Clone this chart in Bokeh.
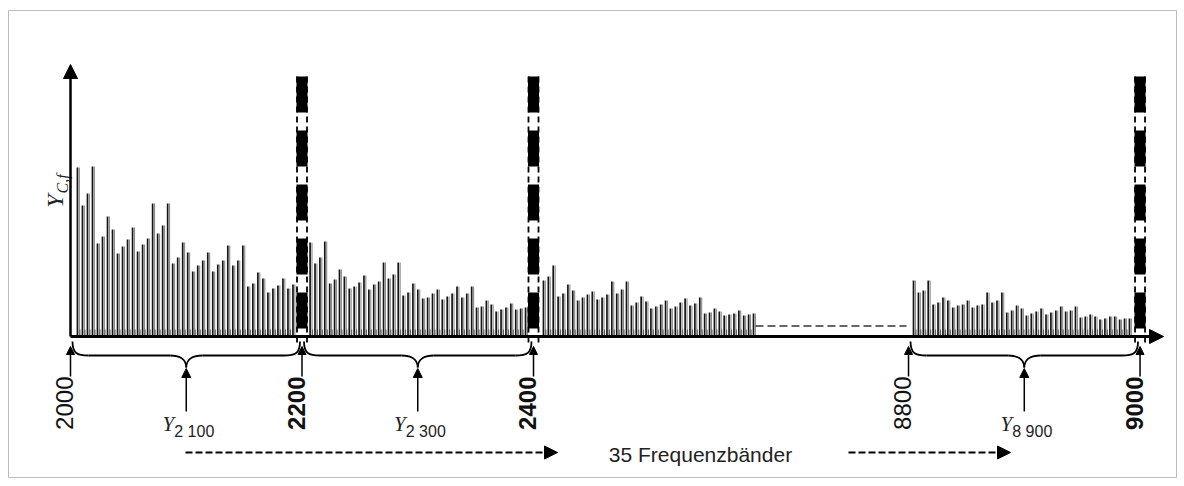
import numpy as np
from bokeh.plotting import figure
from bokeh.models import Range1d, Arrow, NormalHead, ColumnDataSource
from bokeh.core.properties import value
from bokeh.embed import file_html
from bokeh.resources import INLINE

# ---------------- data ----------------
# amplitudes of the spectral lines Y_{C,f} (arbitrary units) per 200 Hz band
band1_amp = [169, 131, 143, 170, 93, 100, 120, 107, 83, 90, 97, 109, 85, 92, 98, 133,
             103, 111, 133, 73, 79, 94, 84, 65, 71, 76, 84, 65, 72, 76, 91, 71, 76, 91,
             50, 53, 64, 58, 44, 48, 51, 58, 48, 52]
band2_amp = [94, 73, 79, 95, 53, 57, 67, 60, 48, 50, 54, 61, 47, 52, 55, 74, 58, 62, 74,
             41, 44, 53, 47, 38, 39, 43, 47, 37, 40, 43, 50, 39, 43, 50, 29, 30, 36, 32,
             25, 27, 29, 33, 27, 28, 29]
band3_amp = [56, 60, 71, 40, 43, 52, 46, 36, 39, 42, 45, 37, 39, 42, 55, 43, 47, 55, 31,
             34, 40, 35, 28, 30, 32, 36, 28, 30, 34, 38, 31, 33, 39, 23, 24, 28, 25, 21,
             22, 23, 26, 21, 22, 23]
band4_amp = [56, 44, 46, 56, 32, 34, 39, 36, 29, 31, 32, 36, 29, 31, 32, 44, 34, 36, 44,
             24, 26, 31, 28, 21, 23, 25, 28, 22, 24, 26, 30, 25, 26, 30, 19, 20, 22, 20,
             17, 18, 20, 20, 17, 18, 18]
band_first_freq = [2006.0, 2207.0, 2408.6, 8804.3]   # Hz, first line of each band
band_line_step = [4.33, 4.23, 4.22, 4.24]            # Hz between lines

tick_freqs = [2000, 2200, 2400, 8800, 9000]
tick_labels = ["2000", "2200", "2400", "8800", "9000"]
marker_freqs = [2200, 2400, 9000]                     # band borders drawn as thick dashed bars
brace_centers = [2100, 2300, 8900]
brace_subscripts = ["2 100", "2 300", "8 900"]
axis_label_main, axis_label_sub = "Y", "C,f"
bands_text = "35 Frequenzbänder"

# ---------------- broken frequency axis ----------------
GAP_SHIFT = 6076.0            # 8800 Hz is drawn right after the gap


def disp(f):
    f = np.asarray(f, dtype=float)
    return np.where(f > 5000, f - GAP_SHIFT, f)


K = 1.1575                    # screen pixels per Hz
X0 = 2000 - 70 / K
W, H = 1184, 486
BASE = 336                    # pixel row of the zero line


def X(px):
    return X0 + px / K


def Y(py):
    return BASE - py


p = figure(width=W, height=H, output_backend="svg", toolbar_location=None,
           x_range=Range1d(X0, X0 + W / K), y_range=Range1d(BASE - H, BASE),
           min_border=0, background_fill_color="white", border_fill_color="white")
p.outline_line_color = None
p.xaxis.visible = False
p.yaxis.visible = False
p.xgrid.visible = False
p.ygrid.visible = False

# outer frame
p.quad(left=[X(8)], right=[X(1176)], bottom=[Y(477)], top=[Y(10)],
       fill_color=None, line_color="#bdbdbd", line_width=1)

# ---------------- spectral lines ----------------
amps = [band1_amp, band2_amp, band3_amp, band4_amp]
xs_all, tops_all, mids = [], [], []
for a, f0, st in zip(amps, band_first_freq, band_line_step):
    f = f0 + st * np.arange(len(a))
    xs_all.extend(disp(f))
    tops_all.extend(a)
    mids.extend(disp(f[:-1] + st / 2))

xs_all = np.array(xs_all)
src = ColumnDataSource(dict(x=xs_all, x2=xs_all + 1.9 / K, top=tops_all))
p.segment(x0="x2", y0=0, x1="x2", y1="top", source=src,
          line_color="#8a8a8a", line_width=1.1)
p.segment(x0="x", y0=0, x1="x", y1="top", source=src,
          line_color="#151515", line_width=1.7)
p.segment(x0=mids, y0=0, x1=mids, y1=7, line_color="#555555", line_width=1)

# continuation dashes in the gap
gap_start = disp(band_first_freq[2] + band_line_step[2] * (len(band3_amp) - 1))
p.segment(x0=[float(gap_start) + 2 / K], y0=[Y(325.5)], x1=[float(disp(8800)) - 2 / K],
          y1=[Y(325.5)], line_color="#333333", line_width=1.5, line_dash="8 4")

# axes
p.segment(x0=[2000], y0=[0], x1=[X(1150)], y1=[0], line_color="black", line_width=3)
p.add_layout(Arrow(end=NormalHead(size=14, fill_color="black", line_color="black"),
                   x_start=X(1140), y_start=0, x_end=X(1163), y_end=0,
                   line_color="black", line_width=3))
p.add_layout(Arrow(end=NormalHead(size=14, fill_color="black", line_color="black"),
                   x_start=2000, y_start=0, x_end=2000, y_end=Y(64),
                   line_color="black", line_width=2.5))

# thick dashed band borders
for fm in marker_freqs:
    xd = float(disp(fm))
    for dx in (-5, 5):
        p.segment(x0=[xd + dx / K], y0=[Y(76)], x1=[xd + dx / K], y1=[Y(342)],
                  line_color="black", line_width=1.8, line_dash="6 4")
    p.segment(x0=[xd], y0=[Y(76)], x1=[xd], y1=[Y(342)],
              line_color="black", line_width=11, line_dash="36 18")

# y label (rotated)
p.text(x=[X(54)], y=[Y(194)], text=[axis_label_main], angle=np.pi / 2,
       text_align="right", text_baseline="alphabetic",
       text_font=value("Liberation Serif"), text_font_style="italic",
       text_font_size="24px", text_color="#222222")
p.text(x=[X(62)], y=[Y(193)], text=[axis_label_sub], angle=np.pi / 2,
       text_align="left", text_baseline="alphabetic",
       text_font=value("Liberation Serif"), text_font_style="italic",
       text_font_size="16px", text_color="#222222")

# tick labels with arrows
for f, lab in zip(tick_freqs, tick_labels):
    xd = float(disp(f))
    bold = f in marker_freqs
    p.text(x=[xd - 6 / K], y=[Y(376)], text=[lab], angle=np.pi / 2,
           text_align="right", text_baseline="middle",
           text_font=value("Liberation Sans"),
           text_font_style="bold" if bold else "normal",
           text_font_size="24px", text_color="#111111")
    p.add_layout(Arrow(end=NormalHead(size=8, fill_color="black", line_color="black"),
                       x_start=xd, y_start=Y(376), x_end=xd, y_end=Y(346),
                       line_color="black", line_width=1.5))

# braces with Y_xxxx labels
q = 16 / K
yb_end, yb_mid, yb_tip = Y(341), Y(355), Y(367)
for c, sub in zip(brace_centers, brace_subscripts):
    cd = float(disp(c))
    L, R = cd - 100 + 2 / K, cd + 100 - 2 / K
    p.bezier(x0=[L, cd, cd, R], y0=[yb_end, yb_tip, yb_tip, yb_end],
             x1=[L + q, cd - q, cd + q, R - q], y1=[yb_mid] * 4,
             cx0=[L, cd, cd, R], cy0=[yb_mid + 2, yb_tip + 9, yb_tip + 9, yb_mid + 2],
             cx1=[L + q * 0.3, cd - q * 0.5, cd + q * 0.5, R - q * 0.3],
             cy1=[yb_mid, yb_mid, yb_mid, yb_mid],
             line_color="black", line_width=1.8)
    p.segment(x0=[L + q, cd + q], y0=[yb_mid, yb_mid], x1=[cd - q, R - q],
              y1=[yb_mid, yb_mid], line_color="black", line_width=1.8)
    p.add_layout(Arrow(end=NormalHead(size=9, fill_color="black", line_color="black"),
                       x_start=cd, y_start=Y(411), x_end=cd, y_end=Y(368),
                       line_color="black", line_width=1.5))
    p.text(x=[cd - 12 / K], y=[Y(423)], text=["Y"], text_align="right",
           text_baseline="alphabetic", text_font=value("Liberation Serif"),
           text_font_style="italic", text_font_size="21px", text_color="#222222")
    p.text(x=[cd - 12 / K], y=[Y(431)], text=[sub], text_align="left",
           text_baseline="alphabetic", text_font=value("Liberation Sans"),
           text_font_size="16px", text_color="#222222")

# bottom: 35 frequency bands
for a, b in ((185, 557), (848, 1010)):
    p.add_layout(Arrow(end=NormalHead(size=13, fill_color="black", line_color="black"),
                       x_start=X(a), y_start=Y(452), x_end=X(b), y_end=Y(452),
                       line_color="black", line_width=2, line_dash="7 3"))
p.text(x=[X(700)], y=[Y(454)], text=[bands_text], text_align="center",
       text_baseline="middle", text_font=value("Liberation Sans"),
       text_font_size="21px", text_color="#222222")

open("out.html", "w").write(file_html(p, INLINE))
